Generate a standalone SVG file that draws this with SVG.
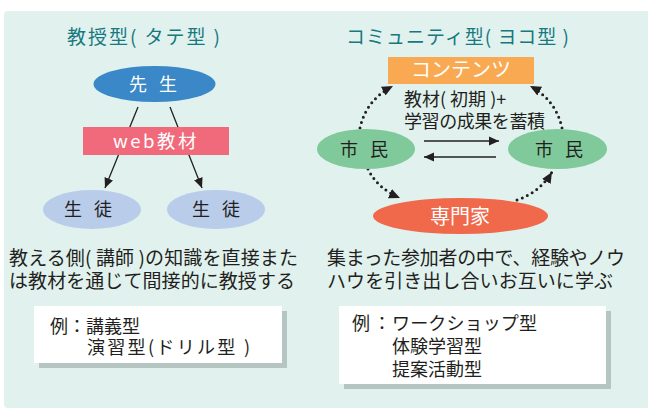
<svg xmlns="http://www.w3.org/2000/svg" width="648" height="413" viewBox="0 0 648 413">
<style>
text{font-family:"Noto Sans CJK JP","Noto Sans",sans-serif;}
.title{font-size:19px;fill:#17787f;}
.body{font-size:19px;fill:#231f20;}
.ex{font-size:18px;fill:#231f20;}
.wt{fill:#ffffff;text-anchor:middle;}
.dk{fill:#231f20;text-anchor:middle;}
.ln{stroke:#231f20;stroke-width:1.3;fill:none;}
.dot{stroke:#231f20;stroke-width:3;fill:none;stroke-dasharray:0 5.6;stroke-linecap:round;}
</style>
<defs>
<marker id="ah" viewBox="0 0 10 10" refX="10" refY="5" markerWidth="10" markerHeight="10" markerUnits="userSpaceOnUse" orient="auto">
<path d="M0,0.5 L10,5 L0,9.5 Z" fill="#231f20"/>
</marker>
<marker id="ahd" viewBox="0 0 10 10" refX="10" refY="5" markerWidth="11" markerHeight="11" markerUnits="userSpaceOnUse" orient="auto">
<path d="M0,0.5 L10,5 L0,9.5 Z" fill="#231f20"/>
</marker>
</defs>
<rect x="4" y="11" width="650" height="397" rx="4" fill="#e1f2ee"/>

<text class="title" x="67" y="44" textLength="153" lengthAdjust="spacing">教授型( タテ型 )</text>
<text class="title" x="346" y="44" textLength="223" lengthAdjust="spacing">コミュニティ型( ヨコ型 )</text>

<g id="connectors">
<path class="ln" d="M138,107 L105,188" marker-end="url(#ah)"/>
<path class="ln" d="M170,107 L202,188" marker-end="url(#ah)"/>
<path class="ln" d="M424,141 L499,141" marker-end="url(#ah)"/>
<path class="ln" d="M496,157 L424,157" marker-end="url(#ah)"/>
<path class="dot" d="M360,128 Q366,100 393,86" marker-end="url(#ahd)"/>
<path class="dot" d="M562,128 Q556,100 530,86" marker-end="url(#ahd)"/>
<path class="dot" d="M368,169 Q377,188 400,198" marker-end="url(#ahd)"/>
<path class="dot" d="M517,200 Q540,192 552,172" marker-end="url(#ahd)"/>
</g>

<g id="sensei">
<ellipse cx="154.5" cy="84" rx="61" ry="18" fill="#3b88c9"/>
<text class="wt" x="155" y="91" font-size="18" letter-spacing="4">先 生</text>
</g>
<g id="web-kyozai">
<rect x="83" y="127" width="146" height="28" fill="#f06a7b"/>
<text class="wt" x="156" y="148" font-size="18.5" letter-spacing="2.5">web教材</text>
</g>
<g id="seito1">
<ellipse cx="92" cy="209.5" rx="49" ry="19.5" fill="#b9cdea"/>
<text class="dk" x="90" y="216" font-size="18" letter-spacing="4">生 徒</text>
</g>
<g id="seito2">
<ellipse cx="216" cy="209.5" rx="49" ry="19.5" fill="#b9cdea"/>
<text class="dk" x="218" y="216" font-size="18" letter-spacing="4">生 徒</text>
</g>

<g id="contents">
<rect x="388" y="57" width="146" height="27" fill="#f9a951"/>
<text class="wt" x="461" y="77" font-size="20">コンテンツ</text>
</g>
<g id="label-kyozai">
<text class="ex" x="404" y="106" font-size="17.5">教材( 初期 )+</text>
<text class="ex" x="404" y="128" font-size="17.5" textLength="141" lengthAdjust="spacing">学習の成果を蓄積</text>
</g>
<g id="shimin1">
<ellipse cx="366" cy="149" rx="49" ry="20" fill="#80c99a"/>
<text class="dk" x="366" y="155.5" font-size="18" letter-spacing="4">市 民</text>
</g>
<g id="shimin2">
<ellipse cx="557.5" cy="149" rx="49.5" ry="20" fill="#80c99a"/>
<text class="dk" x="561" y="155.5" font-size="18" letter-spacing="4">市 民</text>
</g>
<g id="senmonka">
<ellipse cx="460.5" cy="216" rx="87.5" ry="18" fill="#f0694b"/>
<text class="wt" x="460" y="223.5" font-size="20">専門家</text>
</g>

<g id="desc-left">
<text class="body" x="9" y="265" textLength="289" lengthAdjust="spacing">教える側( 講師 )の知識を直接また</text>
<text class="body" x="9" y="288" textLength="286" lengthAdjust="spacing">は教材を通じて間接的に教授する</text>
</g>
<g id="desc-right">
<text class="body" x="327" y="265" textLength="298" lengthAdjust="spacing">集まった参加者の中で、経験やノウ</text>
<text class="body" x="327" y="288" textLength="286" lengthAdjust="spacing">ハウを引き出し合いお互いに学ぶ</text>
</g>

<g id="example-left">
<rect x="39" y="311" width="248" height="57" fill="#b5c5c2"/>
<rect x="34" y="306" width="248" height="57" fill="#ffffff"/>
<text class="ex" x="50" y="333">例：講義型</text>
<text class="ex" x="87" y="354" textLength="163" lengthAdjust="spacing">演習型(ドリル型 )</text>
</g>
<g id="example-right">
<rect x="344" y="311" width="267" height="78" fill="#b5c5c2"/>
<rect x="339" y="306" width="267" height="78" fill="#ffffff"/>
<text class="ex" x="352" y="330">例</text>
<text class="ex" x="373" y="330">：</text>
<text class="ex" x="392" y="330" textLength="145" lengthAdjust="spacing">ワークショップ型</text>
<text class="ex" x="392" y="353">体験学習型</text>
<text class="ex" x="392" y="376">提案活動型</text>
</g>
</svg>
